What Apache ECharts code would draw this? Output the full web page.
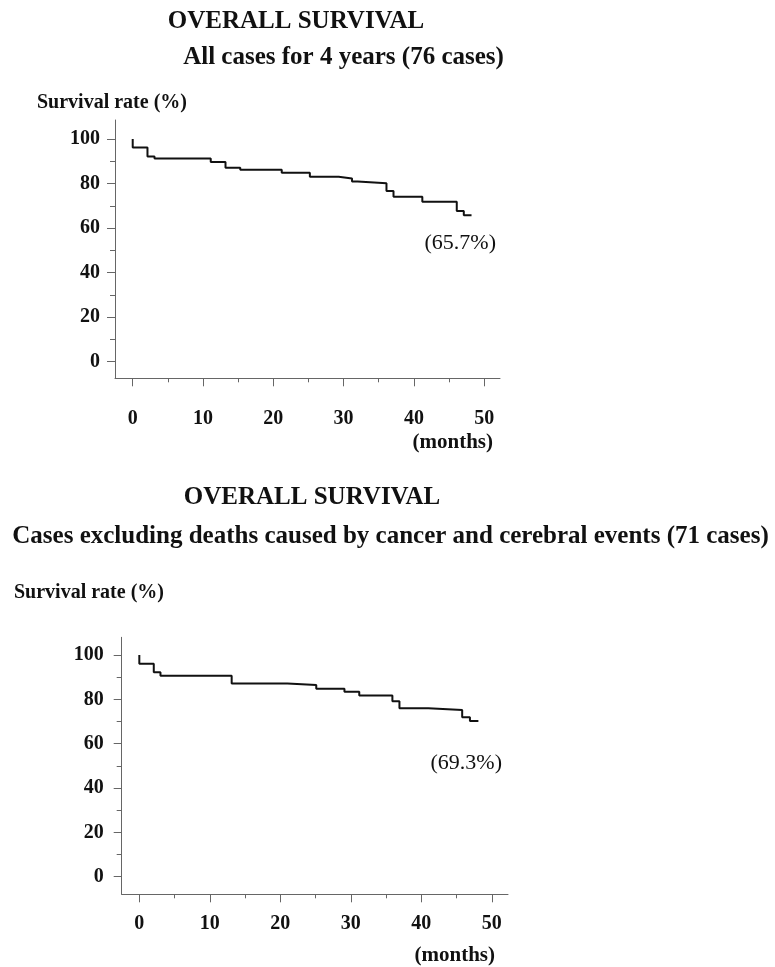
<!DOCTYPE html>
<html><head><meta charset="utf-8">
<script src="https://cdn.jsdelivr.net/npm/echarts@6/dist/echarts.min.js"></script>
<style>html,body{margin:0;padding:0;background:#fff}#c{width:775px;height:967px}</style>
</head><body><div id="c"></div>
<script>
// ---- data ----
const months1   = [0, 0, 2.1, 3.1, 11.1, 13.2, 15.3, 21.2, 25.2, 29.3, 31.2, 32.0, 36.1, 37.1, 41.2, 46.1, 47.1, 48.2];
const survival1 = [100, 96.1, 92.1, 91.2, 89.6, 87.1, 86.2, 84.8, 83.0, 82.2, 80.9, 80.1, 76.6, 74.1, 71.8, 67.7, 65.7, 65.7];
const months2   = [0, 0, 2.05, 3.0, 13.1, 21.0, 25.1, 29.1, 31.2, 35.9, 36.9, 41.0, 45.8, 46.9, 48.1];
const survival2 = [100, 96.1, 92.2, 90.6, 87.2, 86.5, 84.8, 83.4, 81.7, 79.1, 76.0, 75.2, 71.9, 70.2, 70.2];
const yTicks = [0, 20, 40, 60, 80, 100];
const yMinorTicks = [10, 30, 50, 70, 90];
const xTicks = [0, 10, 20, 30, 40, 50];
const xMinorTicks = [5, 15, 25, 35, 45];
const mainTitle = 'OVERALL SURVIVAL';
const subTitle1 = 'All cases for 4 years (76 cases)';
const subTitle2 = 'Cases excluding deaths caused by cancer and cerebral events (71 cases)';
const yName = 'Survival rate (%)';
const xName = '(months)';
const endLabel1 = '(65.7%)';
const endLabel2 = '(69.3%)';

const FONT = '"Liberation Serif", "Times New Roman", serif';
const AX = '#666';
const chart = echarts.init(document.getElementById('c'), null, {renderer: 'canvas'});

function pairs(xs, ys) { return xs.map((x, i) => [x, ys[i]]); }

function majorX(grid, min, max, margin) {
  return {type: 'value', gridIndex: grid, min, max, position: 'bottom',
    axisLine: {show: true, onZero: false, lineStyle: {color: AX, width: 1}},
    axisTick: {show: true, length: 8, lineStyle: {color: AX}, customValues: xTicks},
    axisLabel: {customValues: xTicks, margin, color: '#111', fontFamily: FONT, fontWeight: 'bold', fontSize: 20},
    splitLine: {show: false}};
}
function minorX(grid, min, max) {
  return {type: 'value', gridIndex: grid, min, max, position: 'bottom',
    axisLine: {show: false, onZero: false},
    axisTick: {show: true, length: 4, lineStyle: {color: AX}, customValues: xMinorTicks},
    axisLabel: {show: false}, splitLine: {show: false}};
}
function majorY(grid, min, max, margin) {
  return {type: 'value', gridIndex: grid, min, max, position: 'left',
    axisLine: {show: true, onZero: false, lineStyle: {color: AX, width: 1}},
    axisTick: {show: true, length: 8, lineStyle: {color: AX}, customValues: yTicks},
    axisLabel: {customValues: yTicks, margin, color: '#111', fontFamily: FONT, fontWeight: 'bold', fontSize: 20},
    splitLine: {show: false}};
}
function minorY(grid, min, max) {
  return {type: 'value', gridIndex: grid, min, max, position: 'left',
    axisLine: {show: false, onZero: false},
    axisTick: {show: true, length: 5, lineStyle: {color: AX}, customValues: yMinorTicks},
    axisLabel: {show: false}, splitLine: {show: false}};
}
function txt(x, y, text, size, weight, align) {
  return {type: 'text', x, y, style: {text, fill: '#111', font: weight + ' ' + size + 'px ' + FONT,
    textAlign: align, textVerticalAlign: 'middle'}};
}

chart.setOption({
  animation: false,
  backgroundColor: '#fff',
  grid: [
    {left: 115, top: 120, width: 385, height: 258.3},
    {left: 121.7, top: 637.3, width: 386.3, height: 257}
  ],
  xAxis: [
    majorX(0, -2.52, 52.25, 31), majorX(1, -2.5, 52.3, 20),
    minorX(0, -2.52, 52.25), minorX(1, -2.5, 52.3)
  ],
  yAxis: [
    majorY(0, -7.45, 108.5, 15), majorY(1, -7.94, 108.0, 18),
    minorY(0, -7.45, 108.5), minorY(1, -7.94, 108.0)
  ],
  series: [
    {type: 'line', xAxisIndex: 0, yAxisIndex: 0, step: 'end', showSymbol: false, symbol: 'none',
     lineStyle: {color: '#111', width: 2}, data: pairs(months1, survival1)},
    {type: 'line', xAxisIndex: 1, yAxisIndex: 1, step: 'end', showSymbol: false, symbol: 'none',
     lineStyle: {color: '#111', width: 2}, data: pairs(months2, survival2)}
  ],
  graphic: [
    txt(296, 22, mainTitle, 25, 'bold', 'center'),
    txt(343.5, 58, subTitle1, 25, 'bold', 'center'),
    txt(37, 103, yName, 20, 'bold', 'left'),
    txt(493, 443, xName, 21, 'bold', 'right'),
    txt(496, 243, endLabel1, 22, 'normal', 'right'),
    txt(312, 498, mainTitle, 25, 'bold', 'center'),
    txt(390.5, 537, subTitle2, 25, 'bold', 'center'),
    txt(14, 593, yName, 20, 'bold', 'left'),
    txt(495, 956, xName, 21, 'bold', 'right'),
    txt(502, 763, endLabel2, 22, 'normal', 'right')
  ]
});
</script></body></html>
